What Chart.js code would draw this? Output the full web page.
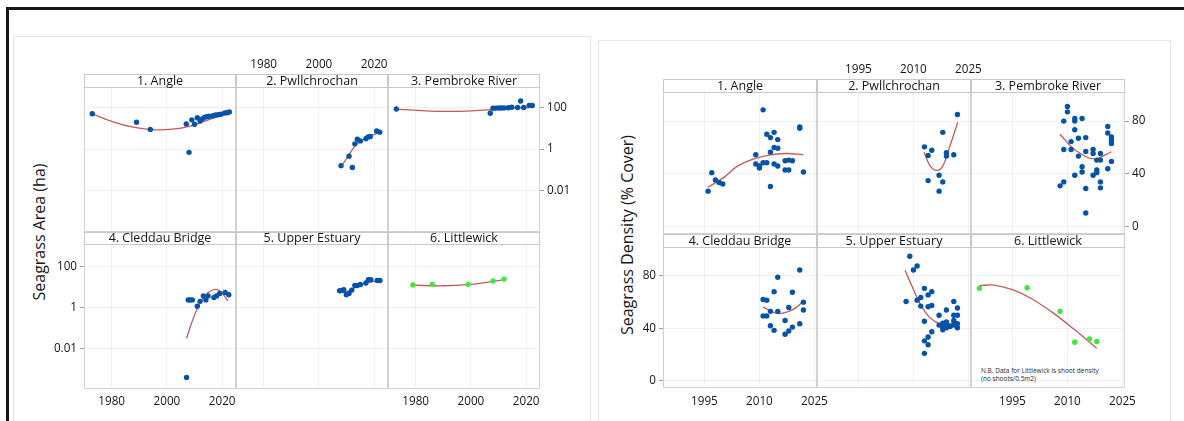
<!DOCTYPE html>
<html>
<head>
<meta charset="utf-8">
<title>Seagrass area and density by site</title>
<script src="https://cdn.jsdelivr.net/npm/chart.js@4.4.1/dist/chart.umd.min.js"></script>
<style>
  html, body { margin: 0; padding: 0; background: #fff; }
  body { position: relative; width: 1184px; height: 421px; overflow: hidden; font-family: 'Open Sans', sans-serif; }
  .rule { position: absolute; background: #161616; }
  .panelBox { position: absolute; border: 1px solid #e6e6e6; box-sizing: border-box; }
  .ytitle { position: absolute; transform: translate(-50%, -50%) rotate(-90deg); white-space: nowrap;
            font-size: 16px; color: #161616; }
  .note { position: absolute; font-size: 6.5px; line-height: 8.3px; color: #2a2a2a; white-space: nowrap; }
  canvas { position: absolute; }
</style>
</head>
<body>
<div class="rule" style="left:6px; top:7px; width:1178px; height:3px;"></div>
<div class="rule" style="left:6px; top:7px; width:3px; height:414px;"></div>
<div class="panelBox" style="left:13px; top:36px; width:578px; height:400px;"></div>
<div class="panelBox" style="left:598px; top:40px; width:573px; height:400px;"></div>
<div class="ytitle" style="left:39px; top:232px;">Seagrass Area (ha)</div>
<div class="ytitle" style="left:627px; top:235px;">Seagrass Density (% Cover)</div>
<div class="note" style="left:981px; top:367px;">N.B. Data for Littlewick is shoot density<br>(no shoots/0.5m2)</div>

<script>
// ---------- site names and axis ticks ----------
const SITES = ['1. Angle', '2. Pwllchrochan', '3. Pembroke River',
               '4. Cleddau Bridge', '5. Upper Estuary', '6. Littlewick'];

const AREA_X_TICKS = [1980, 2000, 2020];
const AREA_Y_TICKS = [0.01, 1, 100];
const AREA_Y_LABELS = ['0.01', '1', '100'];
const DENS_X_TICKS = [1995, 2010, 2025];
const DENS_Y_TICKS = [0, 40, 80];
const DENS_Y_LABELS = ['0', '40', '80'];

// ---------- seagrass area (ha), log scale ----------
const AREA_ANGLE_YEAR = [1973, 1989, 1994, 2007, 2008, 2009, 2010, 2011, 2012, 2012.8, 2013.7, 2014.5, 2015.3, 2016.7, 2017.6, 2018.6, 2019.6, 2020.9, 2021.8, 2022.6];
const AREA_ANGLE_HA   = [51, 20, 9, 16.5, 0.7, 26, 16, 33, 23, 29, 35, 37, 39, 41, 45, 46, 48, 56, 57, 62];
const AREA_ANGLE_FIT_YEAR = [1973, 1980.5, 1987.7, 1996, 2002, 2008, 2014, 2022.6];
const AREA_ANGLE_FIT_HA   = [51, 20.5, 11.5, 8.5, 9.2, 12.6, 23, 58];

const AREA_PWLL_YEAR = [2008, 2010.9, 2012.1, 2013, 2013.9, 2015, 2017, 2017.8, 2018.6, 2020.9, 2022];
const AREA_PWLL_HA   = [0.16, 0.46, 0.13, 1.8, 3.0, 2.5, 3.2, 3.9, 4.1, 7.6, 6.6];
const AREA_PWLL_FIT_YEAR = [2008.2, 2011.2, 2013.6, 2017.2, 2021.8];
const AREA_PWLL_FIT_HA   = [0.15, 0.62, 1.74, 3.6, 6.3];

const AREA_PEMB_YEAR = [1973, 2007, 2008, 2009, 2010, 2011, 2012, 2013.5, 2014.8, 2016.9, 2018, 2019.1, 2021.1, 2022.2];
const AREA_PEMB_HA   = [87, 54, 95, 96, 97, 97, 98, 100, 105, 102, 210, 102, 130, 128];
const AREA_PEMB_FIT_YEAR = [1973, 1990, 2006, 2014, 2022.2];
const AREA_PEMB_FIT_HA   = [85, 66, 78, 92, 105];

const AREA_CLED_YEAR = [2007.1, 2007.7, 2008.4, 2009.2, 2011, 2012, 2013.2, 2014.1, 2014.9, 2017, 2018, 2019.1, 2021.1, 2022.4];
const AREA_CLED_HA   = [0.00037, 2.35, 2.35, 2.35, 1.15, 2.0, 3.7, 2.35, 3.7, 3.1, 3.7, 4.9, 5.5, 4.2];
const AREA_CLED_FIT_YEAR = [2007.1, 2009.4, 2011.2, 2013.7, 2016.7, 2019.1, 2022.1];
const AREA_CLED_FIT_HA   = [0.031, 0.26, 1.0, 3.7, 7.4, 6.6, 2.1];

const AREA_UPPER_YEAR = [2007.5, 2008.5, 2009, 2009.9, 2010.9, 2011.9, 2013, 2013.9, 2015, 2017, 2017.9, 2018.8, 2021.1, 2022.1];
const AREA_UPPER_HA   = [6.6, 6.9, 7.4, 4.2, 4.9, 7.1, 12, 12, 13.5, 15.8, 23, 23, 21, 21];
const AREA_UPPER_FIT_YEAR = [2007.5, 2010, 2013, 2017, 2022.1];
const AREA_UPPER_FIT_HA   = [5.4, 5.9, 9.5, 15.5, 21];

const AREA_LITTLE_YEAR = [1979, 1986, 1999, 2008, 2012];
const AREA_LITTLE_HA   = [12.6, 13.6, 13.6, 20, 24.6];
const AREA_LITTLE_FIT_YEAR = [1979, 1990, 1999, 2008, 2012];
const AREA_LITTLE_FIT_HA   = [12.4, 11.6, 13.2, 19, 23];

// ---------- seagrass density (% cover; Littlewick = shoots/0.5m2) ----------
const DENS_ANGLE_YEAR = [1996, 1997, 1998, 1999, 2000, 2009, 2009, 2010, 2010, 2011, 2011, 2012, 2012, 2013, 2013, 2013, 2014, 2014, 2014, 2015, 2015, 2015, 2017, 2017, 2018, 2018, 2019, 2021, 2021, 2022];
const DENS_ANGLE_PCT  = [27, 41, 35.5, 33.5, 32.5, 54.5, 47.5, 46, 44.5, 88.5, 48.5, 48.5, 70, 67.5, 56.5, 30.5, 71.5, 60, 47.5, 66, 59.5, 46, 50, 43, 50.5, 43, 50, 75.5, 74.5, 41.5];
const DENS_ANGLE_FIT_YEAR = [1996, 2000.4, 2004, 2008.5, 2013.1, 2017.6, 2022];
const DENS_ANGLE_FIT_PCT  = [30, 37.6, 45.9, 51.5, 54.5, 55.5, 54.5];

const DENS_PWLL_YEAR = [2013, 2014, 2014, 2015, 2017, 2017, 2018, 2018, 2019, 2019, 2021, 2022];
const DENS_PWLL_PCT  = [60.5, 54, 35, 58, 39, 27, 71.5, 34, 56, 53.5, 54.5, 85];
const DENS_PWLL_FIT_YEAR = [2012.9, 2014.5, 2016.3, 2018, 2019.7, 2022.1];
const DENS_PWLL_FIT_PCT  = [56.5, 46.4, 42.7, 45.9, 59, 79.2];

const DENS_PEMB_YEAR = [2008, 2009, 2009, 2009, 2010, 2010, 2011, 2011, 2012, 2012, 2012, 2012, 2013, 2013, 2014, 2014, 2014, 2015, 2015, 2015, 2015, 2017, 2017, 2017, 2018, 2018, 2018, 2019, 2019, 2019, 2019, 2021, 2021, 2021, 2022, 2022, 2022, 2022];
const DENS_PEMB_PCT  = [31, 34, 58.5, 80, 91, 87, 64.5, 58.5, 39, 82, 80, 73.5, 67, 53.5, 82, 45.5, 41.5, 67.5, 57, 29, 10.5, 58.5, 55.5, 39, 50.5, 43, 41, 55.5, 50.5, 34, 29.5, 76, 71, 44, 68, 65.5, 63, 49.5];
const DENS_PEMB_FIT_YEAR = [2008, 2011.1, 2014.2, 2016.3, 2018.3, 2022];
const DENS_PEMB_FIT_PCT  = [70, 60.5, 54.3, 51.8, 51.8, 56.8];

const DENS_CLED_YEAR = [2011, 2012, 2011, 2012, 2013, 2013, 2014, 2014, 2015, 2015, 2017, 2017, 2018, 2018, 2019, 2019, 2021, 2021, 2022, 2022];
const DENS_CLED_PCT  = [62, 61.5, 49.5, 49.5, 53, 42, 68, 38.5, 79, 53, 46, 35.5, 56, 38, 67.5, 41, 84.5, 43.5, 60, 54];
const DENS_CLED_FIT_YEAR = [2011, 2013.1, 2015.4, 2017.6, 2019.9, 2021.7];
const DENS_CLED_FIT_PCT  = [56.4, 53.1, 51.3, 52.6, 55.6, 60.2];

const DENS_UPPER_YEAR = [2008, 2009, 2010, 2011, 2011, 2012, 2012, 2013, 2013, 2013, 2013, 2014, 2014, 2014, 2014, 2015, 2015, 2015, 2017, 2017, 2018, 2018, 2018, 2019, 2019, 2019, 2019, 2020, 2021, 2021, 2021, 2021, 2022, 2022, 2022, 2022];
const DENS_UPPER_PCT  = [60.5, 95, 84.5, 87.5, 61.5, 63.5, 57, 70.5, 45.5, 30.5, 21, 65.5, 56.5, 33.5, 27.5, 68, 57.5, 37.5, 50, 42.5, 41, 39, 44, 54, 45, 42.5, 40.5, 41.5, 60.5, 50, 46, 42.5, 55.5, 50, 43.5, 40.5];
const DENS_UPPER_FIT_YEAR = [2007.7, 2009.7, 2012, 2014.3, 2016.6, 2018.5, 2022];
const DENS_UPPER_FIT_PCT  = [84.3, 71.6, 57.7, 48.8, 44.2, 43, 45];

const DENS_LITTLE_YEAR = [1986, 1999, 2008, 2012, 2016, 2018];
const DENS_LITTLE_VAL  = [70.5, 71, 53, 29.5, 32, 30];
const DENS_LITTLE_FIT_YEAR = [1986, 1990, 1995, 2000, 2006, 2012, 2018];
const DENS_LITTLE_FIT_VAL  = [72.5, 73, 69.5, 63, 52, 38.9, 24.9];

// ---------- styling ----------
const BLUE = '#0553a8';
const GREEN = '#3de83d';
const FIT_COLOR = 'rgb(196, 90, 90)';
const GRID_COLOR = 'rgba(0, 0, 0, 0.055)';
const FRAME_COLOR = '#d2d2d2';
const STRIP_COLOR = '#c8c8c8';
const TEXT_COLOR = '#151515';
const FONT = "'Open Sans', sans-serif";
const M = 40;   // spare room on every side of a facet's plot area

Chart.defaults.font.family = FONT;
Chart.defaults.font.size = 11.7;
Chart.defaults.color = TEXT_COLOR;

// facet grid geometry for each panel
const AREA_PANEL = {
  x0: 84, colW: 152,
  rows: [{ top: 87, h: 145, strip: 13, yMax: 1000 }, { top: 244, h: 145, strip: 12, yMax: 1300 }],
  xMin: 1970, xMax: 2025, xTicks: AREA_X_TICKS,
  yLog: true, yMin: 0.0001, yTicks: AREA_Y_TICKS, yLabels: AREA_Y_LABELS,
  topPad: 15, bottomPad: 6
};
const DENS_PANEL = {
  x0: 663, colW: 154,
  rows: [{ top: 92, h: 142, strip: 13, yMax: 102 }, { top: 247, h: 141, strip: 13, yMax: 102 }],
  xMin: 1983.7, xMax: 2025.7, xTicks: DENS_X_TICKS,
  yLog: false, yMin: -5.4, yTicks: DENS_Y_TICKS, yLabels: DENS_Y_LABELS,
  topPad: 15, bottomPad: 6.5
};

// header strip, plot frame and facet title
const facetFrame = {
  id: 'facetFrame',
  beforeDatasetsDraw(chart, args, opts) {
    const a = chart.chartArea;
    const ctx = chart.ctx;
    const w = a.right - a.left;
    ctx.save();
    ctx.lineWidth = 1;
    ctx.strokeStyle = FRAME_COLOR;
    ctx.strokeRect(a.left + 0.5, a.top + 0.5, w - 1, a.bottom - a.top - 1);
    ctx.strokeStyle = STRIP_COLOR;
    ctx.strokeRect(a.left + 0.5, a.top - opts.strip + 0.5, w - 1, opts.strip);
    ctx.fillStyle = TEXT_COLOR;
    ctx.font = '12.5px ' + FONT;
    ctx.textAlign = 'center';
    ctx.textBaseline = 'middle';
    ctx.fillText(opts.title, (a.left + a.right) / 2, a.top - opts.strip / 2 + 0.5);
    ctx.restore();
  }
};

function pairs(xs, ys) {
  return xs.map((x, i) => ({ x: x, y: ys[i] }));
}

function addFacet(panel, index, years, values, fitYears, fitValues, color) {
  const row = Math.floor(index / 3);
  const col = index % 3;
  const r = panel.rows[row];
  const left = panel.x0 + col * panel.colW;

  const canvas = document.createElement('canvas');
  canvas.width = panel.colW + 2 * M;
  canvas.height = r.h + 2 * M;
  canvas.style.left = (left - M) + 'px';
  canvas.style.top = (r.top - M) + 'px';
  canvas.style.width = canvas.width + 'px';
  canvas.style.height = canvas.height + 'px';
  document.body.appendChild(canvas);

  // Minitab-style alternating axes
  const xLabelSide = (row === 0 && col === 1) ? 'top' : (row === 1 && col !== 1) ? 'bottom' : null;
  const yLabelSide = (row === 0 && col === 2) ? 'right' : (row === 1 && col === 0) ? 'left' : null;
  const xPos = xLabelSide || 'bottom';
  const yPos = yLabelSide || 'left';

  new Chart(canvas, {
    type: 'scatter',
    data: {
      datasets: [
        {
          data: pairs(years, values),
          backgroundColor: color,
          borderColor: color,
          borderWidth: 0,
          pointRadius: 2.7,
          pointHoverRadius: 2.7,
          order: 0
        },
        {
          type: 'line',
          data: pairs(fitYears, fitValues),
          borderColor: FIT_COLOR,
          borderWidth: 1.3,
          pointRadius: 0,
          tension: 0.4,
          fill: false,
          order: 1
        }
      ]
    },
    options: {
      responsive: false,
      animation: false,
      events: [],
      devicePixelRatio: 1,
      layout: {
        padding: {
          left: yPos === 'left' ? 0 : M,
          right: yPos === 'right' ? 0 : M,
          top: xPos === 'top' ? 0 : M,
          bottom: xPos === 'bottom' ? 0 : M
        }
      },
      plugins: {
        legend: { display: false },
        tooltip: { enabled: false },
        facetFrame: { title: SITES[index], strip: r.strip }
      },
      scales: {
        x: {
          type: 'linear',
          position: xPos,
          min: panel.xMin,
          max: panel.xMax,
          bounds: 'data',
          afterBuildTicks: s => { s.ticks = panel.xTicks.map(v => ({ value: v })); },
          afterFit: s => { s.height = M; },
          border: { display: false },
          grid: { color: GRID_COLOR, drawTicks: false },
          ticks: {
            display: !!xLabelSide,
            padding: xPos === 'top' ? panel.topPad : panel.bottomPad,
            maxRotation: 0,
            autoSkip: false,
            callback: v => String(v)
          }
        },
        y: {
          type: panel.yLog ? 'logarithmic' : 'linear',
          position: yPos,
          min: panel.yMin,
          max: r.yMax,
          bounds: 'data',
          afterBuildTicks: s => { s.ticks = panel.yTicks.map(v => ({ value: v })); },
          afterFit: s => { s.width = M; },
          border: { display: false },
          grid: { color: GRID_COLOR, drawTicks: !!yLabelSide, tickLength: 4, tickColor: '#a0a0a0' },
          ticks: {
            display: !!yLabelSide,
            padding: 3,
            autoSkip: false,
            callback: v => {
              const i = panel.yTicks.findIndex(t => Math.abs(t - v) < 1e-9);
              return i >= 0 ? panel.yLabels[i] : '';
            }
          }
        }
      }
    },
    plugins: [facetFrame]
  });
}

// left panel: area
addFacet(AREA_PANEL, 0, AREA_ANGLE_YEAR, AREA_ANGLE_HA, AREA_ANGLE_FIT_YEAR, AREA_ANGLE_FIT_HA, BLUE);
addFacet(AREA_PANEL, 1, AREA_PWLL_YEAR, AREA_PWLL_HA, AREA_PWLL_FIT_YEAR, AREA_PWLL_FIT_HA, BLUE);
addFacet(AREA_PANEL, 2, AREA_PEMB_YEAR, AREA_PEMB_HA, AREA_PEMB_FIT_YEAR, AREA_PEMB_FIT_HA, BLUE);
addFacet(AREA_PANEL, 3, AREA_CLED_YEAR, AREA_CLED_HA, AREA_CLED_FIT_YEAR, AREA_CLED_FIT_HA, BLUE);
addFacet(AREA_PANEL, 4, AREA_UPPER_YEAR, AREA_UPPER_HA, AREA_UPPER_FIT_YEAR, AREA_UPPER_FIT_HA, BLUE);
addFacet(AREA_PANEL, 5, AREA_LITTLE_YEAR, AREA_LITTLE_HA, AREA_LITTLE_FIT_YEAR, AREA_LITTLE_FIT_HA, GREEN);

// right panel: density
addFacet(DENS_PANEL, 0, DENS_ANGLE_YEAR, DENS_ANGLE_PCT, DENS_ANGLE_FIT_YEAR, DENS_ANGLE_FIT_PCT, BLUE);
addFacet(DENS_PANEL, 1, DENS_PWLL_YEAR, DENS_PWLL_PCT, DENS_PWLL_FIT_YEAR, DENS_PWLL_FIT_PCT, BLUE);
addFacet(DENS_PANEL, 2, DENS_PEMB_YEAR, DENS_PEMB_PCT, DENS_PEMB_FIT_YEAR, DENS_PEMB_FIT_PCT, BLUE);
addFacet(DENS_PANEL, 3, DENS_CLED_YEAR, DENS_CLED_PCT, DENS_CLED_FIT_YEAR, DENS_CLED_FIT_PCT, BLUE);
addFacet(DENS_PANEL, 4, DENS_UPPER_YEAR, DENS_UPPER_PCT, DENS_UPPER_FIT_YEAR, DENS_UPPER_FIT_PCT, BLUE);
addFacet(DENS_PANEL, 5, DENS_LITTLE_YEAR, DENS_LITTLE_VAL, DENS_LITTLE_FIT_YEAR, DENS_LITTLE_FIT_VAL, GREEN);
</script>
</body>
</html>
